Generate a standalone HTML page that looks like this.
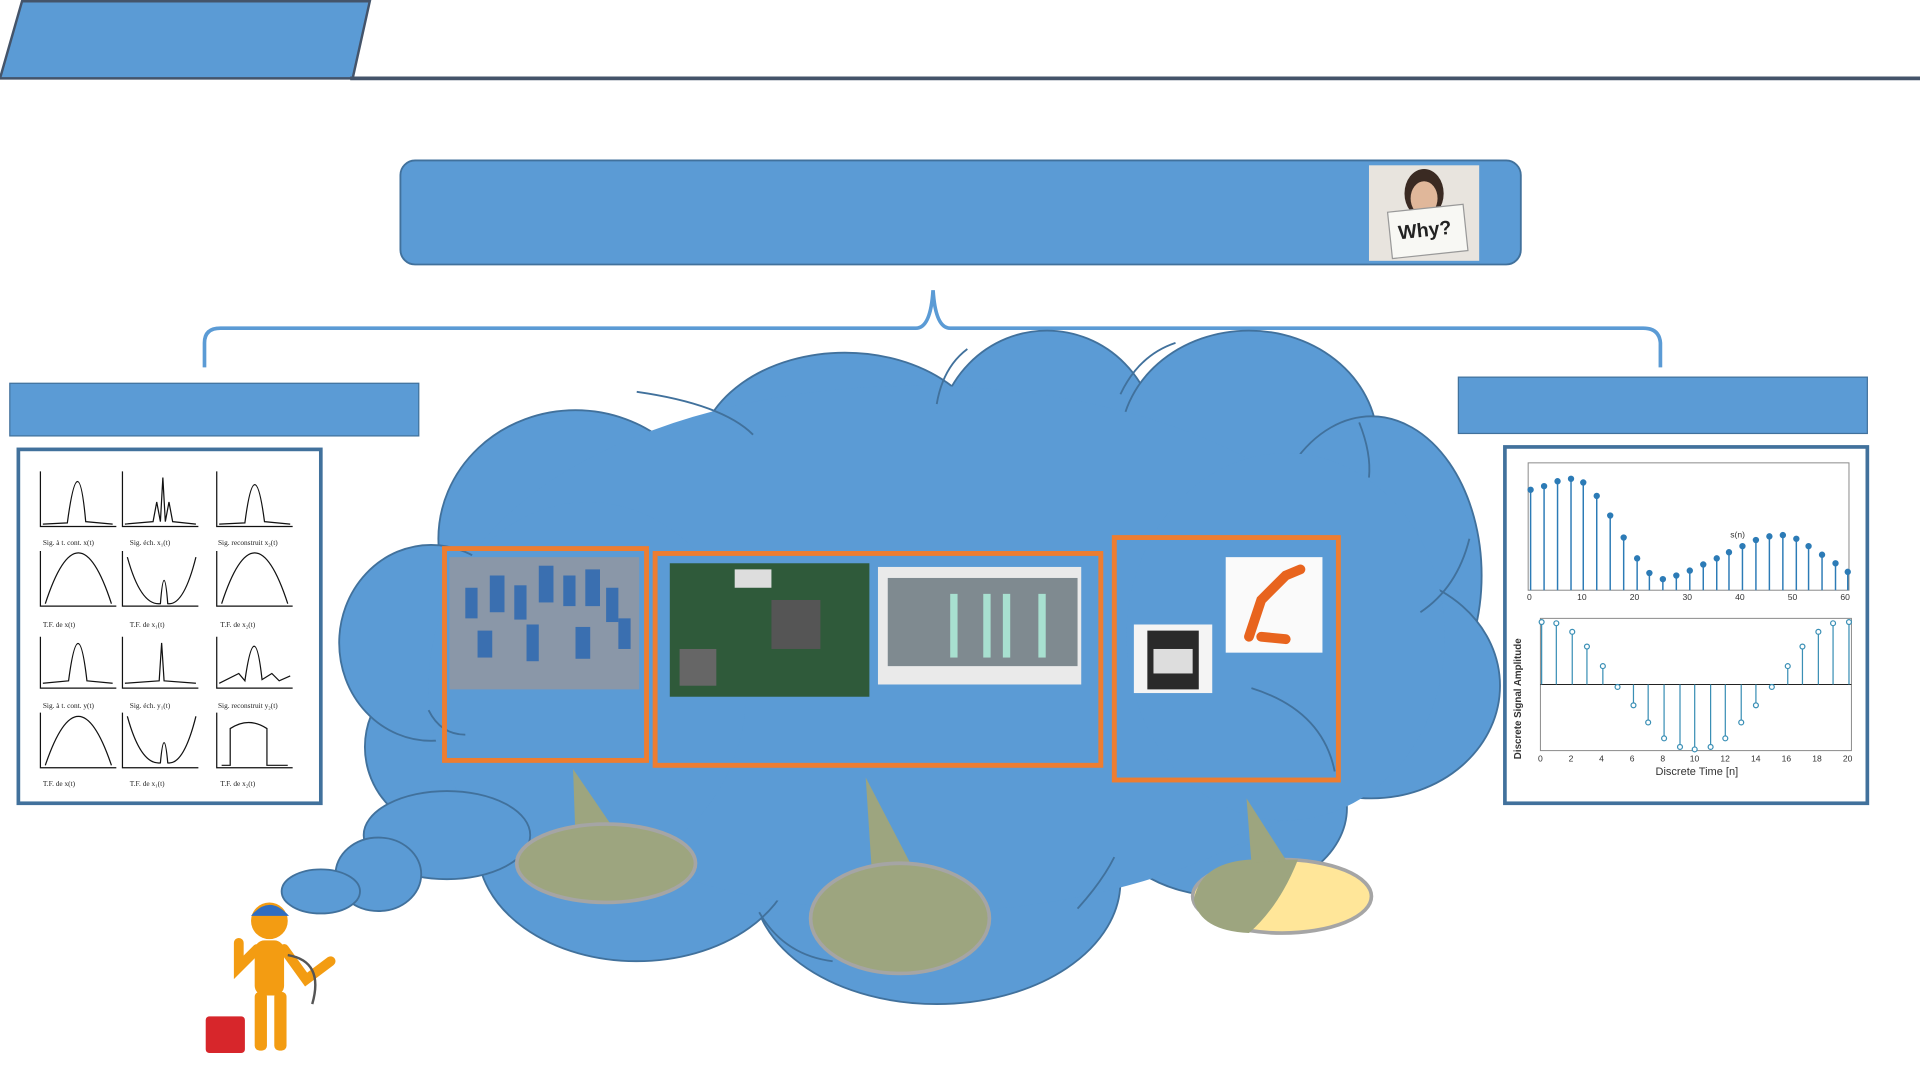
<!DOCTYPE html>
<html><head><meta charset="utf-8"><style>
html,body{margin:0;padding:0;background:#fff;width:1920px;height:1080px;overflow:hidden}
svg{display:block}
</style></head><body>
<svg width="1920" height="1080" viewBox="0 0 1568 882" xmlns="http://www.w3.org/2000/svg" font-family="Liberation Sans, sans-serif">
<!-- header -->
<polygon points="0,64 18,1 302,1 288,64" fill="#5b9bd5" stroke="#44546a" stroke-width="2"/>
<line x1="286" y1="64" x2="1568" y2="64" stroke="#44546a" stroke-width="3"/>
<!-- top box -->
<rect x="327" y="131" width="915" height="85" rx="12" fill="#5b9bd5" stroke="#41719c" stroke-width="1.5"/>
<rect x="1118" y="135" width="90" height="78" fill="#e8e4de"/>
<ellipse cx="1163" cy="158" rx="16" ry="20" fill="#3a2a22"/>
<ellipse cx="1163" cy="162" rx="11" ry="14" fill="#e0b79a"/>
<rect x="1135" y="170" width="62" height="38" fill="#f8f8f4" stroke="#999" transform="rotate(-6 1166 189)"/>
<text x="1142" y="193" font-size="16" font-weight="bold" fill="#222" transform="rotate(-6 1166 189)">Why?</text>
<!-- brace -->
<path d="M167,300 L167,280 Q167,268 180,268 L748,268 Q760,268 762,237 Q764,268 776,268 L1342,268 Q1355,268 1356,280 L1356,300" fill="none" stroke="#5b9bd5" stroke-width="3"/>
<!-- side labels -->
<rect x="8" y="313" width="334" height="43" fill="#5b9bd5" stroke="#41719c"/>
<rect x="1191" y="308" width="334" height="46" fill="#5b9bd5" stroke="#41719c"/>
<!-- left chart panel -->
<rect x="15" y="367" width="247" height="289" fill="#fff" stroke="#41719c" stroke-width="3"/>
<g stroke="#111" stroke-width="1" fill="none">
 <g id="row">
  <path d="M33,385 L33,430 L95,430"/><path d="M100,385 L100,430 L162,430"/><path d="M177,385 L177,430 L239,430"/>
 </g>
 <path d="M35,428 L55,427 Q64,360 70,426 L92,428"/>
 <path d="M102,428 L125,426 L128,410 L131,426 L133,390 L135,426 L138,410 L141,426 L160,428"/>
 <path d="M179,428 L200,427 Q208,365 216,426 L237,428"/>
 <path d="M33,450 L33,495 L95,495 M100,450 L100,495 L162,495 M177,450 L177,495 L239,495"/>
 <path d="M37,493 Q64,410 91,493"/>
 <path d="M104,455 Q115,495 131,493 Q134,455 137,493 Q150,495 160,455"/>
 <path d="M181,493 Q208,410 235,493"/>
 <path d="M33,520 L33,562 L95,562 M100,520 L100,562 L162,562 M177,520 L177,562 L239,562"/>
 <path d="M35,558 L56,556 Q64,495 71,556 L92,558"/>
 <path d="M102,558 L130,556 L132,525 L134,556 L160,558"/>
 <path d="M179,558 L195,550 L200,556 Q208,500 214,555 L222,550 L228,556 L237,552"/>
 <path d="M33,582 L33,627 L95,627 M100,582 L100,627 L162,627 M177,582 L177,627 L239,627"/>
 <path d="M37,625 Q64,545 91,625"/>
 <path d="M104,585 Q115,625 131,623 Q134,590 137,623 Q150,625 160,585"/>
 <path d="M181,625 L188,625 L188,595 Q203,585 218,595 L218,625 L235,625"/>
</g>
<g font-size="6" fill="#222" font-family="Liberation Serif, serif">
 <text x="35" y="445">Sig. à t. cont. x(t)</text><text x="106" y="445">Sig. éch. x₁(t)</text><text x="178" y="445">Sig. reconstruit x₂(t)</text>
 <text x="35" y="512">T.F. de x(t)</text><text x="106" y="512">T.F. de x₁(t)</text><text x="180" y="512">T.F. de x₂(t)</text>
 <text x="35" y="578">Sig. à t. cont. y(t)</text><text x="106" y="578">Sig. éch. y₁(t)</text><text x="178" y="578">Sig. reconstruit y₂(t)</text>
 <text x="35" y="642">T.F. de x(t)</text><text x="106" y="642">T.F. de x₁(t)</text><text x="180" y="642">T.F. de x₂(t)</text>
</g>
<!-- right chart panel -->
<rect x="1229" y="365" width="296" height="291" fill="#fff" stroke="#41719c" stroke-width="3"/>
<rect x="1248" y="378" width="262" height="104" fill="none" stroke="#888" stroke-width="0.8"/>
<g stroke="#2c7bb6" stroke-width="1.2" fill="#2c7bb6">
<line x1="1250" y1="482" x2="1250" y2="400"/><circle cx="1250" cy="400" r="2"/>
<line x1="1261" y1="482" x2="1261" y2="397"/><circle cx="1261" cy="397" r="2"/>
<line x1="1272" y1="482" x2="1272" y2="393"/><circle cx="1272" cy="393" r="2"/>
<line x1="1283" y1="482" x2="1283" y2="391"/><circle cx="1283" cy="391" r="2"/>
<line x1="1293" y1="482" x2="1293" y2="394"/><circle cx="1293" cy="394" r="2"/>
<line x1="1304" y1="482" x2="1304" y2="405"/><circle cx="1304" cy="405" r="2"/>
<line x1="1315" y1="482" x2="1315" y2="421"/><circle cx="1315" cy="421" r="2"/>
<line x1="1326" y1="482" x2="1326" y2="439"/><circle cx="1326" cy="439" r="2"/>
<line x1="1337" y1="482" x2="1337" y2="456"/><circle cx="1337" cy="456" r="2"/>
<line x1="1347" y1="482" x2="1347" y2="468"/><circle cx="1347" cy="468" r="2"/>
<line x1="1358" y1="482" x2="1358" y2="473"/><circle cx="1358" cy="473" r="2"/>
<line x1="1369" y1="482" x2="1369" y2="470"/><circle cx="1369" cy="470" r="2"/>
<line x1="1380" y1="482" x2="1380" y2="466"/><circle cx="1380" cy="466" r="2"/>
<line x1="1391" y1="482" x2="1391" y2="461"/><circle cx="1391" cy="461" r="2"/>
<line x1="1402" y1="482" x2="1402" y2="456"/><circle cx="1402" cy="456" r="2"/>
<line x1="1412" y1="482" x2="1412" y2="451"/><circle cx="1412" cy="451" r="2"/>
<line x1="1423" y1="482" x2="1423" y2="446"/><circle cx="1423" cy="446" r="2"/>
<line x1="1434" y1="482" x2="1434" y2="441"/><circle cx="1434" cy="441" r="2"/>
<line x1="1445" y1="482" x2="1445" y2="438"/><circle cx="1445" cy="438" r="2"/>
<line x1="1456" y1="482" x2="1456" y2="437"/><circle cx="1456" cy="437" r="2"/>
<line x1="1467" y1="482" x2="1467" y2="440"/><circle cx="1467" cy="440" r="2"/>
<line x1="1477" y1="482" x2="1477" y2="446"/><circle cx="1477" cy="446" r="2"/>
<line x1="1488" y1="482" x2="1488" y2="453"/><circle cx="1488" cy="453" r="2"/>
<line x1="1499" y1="482" x2="1499" y2="460"/><circle cx="1499" cy="460" r="2"/>
<line x1="1509" y1="482" x2="1509" y2="467"/><circle cx="1509" cy="467" r="2"/>
</g>
<g font-size="7" fill="#333"><text x="1247" y="490">0</text><text x="1288" y="490">10</text><text x="1331" y="490">20</text><text x="1374" y="490">30</text><text x="1417" y="490">40</text><text x="1460" y="490">50</text><text x="1503" y="490">60</text><text x="1413" y="439">s(n)</text></g>
<rect x="1258" y="505" width="254" height="108" fill="none" stroke="#888" stroke-width="0.8"/>
<line x1="1258" y1="559" x2="1512" y2="559" stroke="#222" stroke-width="0.8"/>
<g stroke="#3a8fb5" stroke-width="1" fill="none">
<path d="M1259,559V508M1271,559V509M1284,559V516M1296,559V528M1309,559V544M1321,559V561M1334,559V576M1346,559V590M1359,559V603M1372,559V610M1384,559V612M1397,559V610M1409,559V603M1422,559V590M1434,559V576M1447,559V561M1460,559V544M1472,559V528M1485,559V516M1497,559V509M1510,559V508"/>
<g fill="#fff"><circle cx="1259" cy="508" r="2"/><circle cx="1271" cy="509" r="2"/><circle cx="1284" cy="516" r="2"/><circle cx="1296" cy="528" r="2"/><circle cx="1309" cy="544" r="2"/><circle cx="1321" cy="561" r="2"/><circle cx="1334" cy="576" r="2"/><circle cx="1346" cy="590" r="2"/><circle cx="1359" cy="603" r="2"/><circle cx="1372" cy="610" r="2"/><circle cx="1384" cy="612" r="2"/><circle cx="1397" cy="610" r="2"/><circle cx="1409" cy="603" r="2"/><circle cx="1422" cy="590" r="2"/><circle cx="1434" cy="576" r="2"/><circle cx="1447" cy="561" r="2"/><circle cx="1460" cy="544" r="2"/><circle cx="1472" cy="528" r="2"/><circle cx="1485" cy="516" r="2"/><circle cx="1497" cy="509" r="2"/><circle cx="1510" cy="508" r="2"/></g>
</g>
<g font-size="7" fill="#333"><text x="1256" y="622">0</text><text x="1281" y="622">2</text><text x="1306" y="622">4</text><text x="1331" y="622">6</text><text x="1356" y="622">8</text><text x="1380" y="622">10</text><text x="1405" y="622">12</text><text x="1430" y="622">14</text><text x="1455" y="622">16</text><text x="1480" y="622">18</text><text x="1505" y="622">20</text></g>
<text x="1352" y="633" font-size="9" fill="#333">Discrete Time [n]</text>
<text x="1242" y="620" font-size="8" font-weight="bold" fill="#333" transform="rotate(-90 1242 620)">Discrete Signal Amplitude</text>
<!-- cloud -->
<g fill="#5b9bd5" stroke="#41719c" stroke-width="1.5">
<ellipse cx="470" cy="440" rx="112" ry="105"/>
<ellipse cx="690" cy="375" rx="120" ry="87"/>
<ellipse cx="855" cy="362" rx="90" ry="92"/>
<ellipse cx="1020" cy="362" rx="105" ry="92"/>
<ellipse cx="1120" cy="470" rx="90" ry="130"/>
<ellipse cx="1120" cy="560" rx="105" ry="92"/>
<ellipse cx="1000" cy="660" rx="100" ry="72"/>
<ellipse cx="765" cy="720" rx="150" ry="100"/>
<ellipse cx="520" cy="692" rx="130" ry="93"/>
<ellipse cx="370" cy="610" rx="72" ry="70"/>
<ellipse cx="352" cy="525" rx="75" ry="80"/>
</g>
<g fill="#5b9bd5">
<ellipse cx="750" cy="530" rx="390" ry="215"/>
<ellipse cx="480" cy="560" rx="130" ry="150"/>
<ellipse cx="1050" cy="520" rx="130" ry="150"/>
</g>
<g fill="none" stroke="#41719c" stroke-width="1.5">
<path d="M520,320 Q590,330 615,355"/><path d="M765,330 Q770,300 790,285"/><path d="M915,322 Q930,290 960,280"/>
<path d="M1110,345 Q1120,370 1118,390"/><path d="M1160,500 Q1190,480 1200,440"/>
<path d="M1022,562 Q1080,580 1090,630"/><path d="M380,600 Q360,600 350,580"/>
<path d="M620,745 Q640,780 680,785"/><path d="M880,742 Q900,720 910,700"/>
</g>
<!-- small bubbles -->
<g fill="#5b9bd5" stroke="#41719c" stroke-width="1.5">
<ellipse cx="365" cy="682" rx="68" ry="36"/>
<ellipse cx="309" cy="714" rx="35" ry="30"/>
<ellipse cx="262" cy="728" rx="32" ry="18"/>
</g>
<!-- orange boxes -->
<g fill="none" stroke="#ed7d31" stroke-width="4">
<rect x="363" y="448" width="165" height="173"/>
<rect x="535" y="452" width="364" height="173"/>
<rect x="910" y="439" width="183" height="198"/>
</g>
<!-- images -->
<rect x="367" y="455" width="155" height="108" fill="#8a97a8"/>
<g fill="#3a6fb0"><rect x="380" y="480" width="10" height="25"/><rect x="400" y="470" width="12" height="30"/><rect x="420" y="478" width="10" height="28"/><rect x="440" y="462" width="12" height="30"/><rect x="460" y="470" width="10" height="25"/><rect x="478" y="465" width="12" height="30"/><rect x="495" y="480" width="10" height="28"/><rect x="390" y="515" width="12" height="22"/><rect x="430" y="510" width="10" height="30"/><rect x="470" y="512" width="12" height="26"/><rect x="505" y="505" width="10" height="25"/></g>
<rect x="547" y="460" width="163" height="109" fill="#2f5a3a"/>
<rect x="630" y="490" width="40" height="40" fill="#555"/><rect x="555" y="530" width="30" height="30" fill="#666"/><rect x="600" y="465" width="30" height="15" fill="#ddd"/>
<rect x="717" y="463" width="166" height="96" fill="#eaeaea"/>
<rect x="725" y="472" width="155" height="72" fill="#7f8a90"/>
<g fill="#a8e0d0"><rect x="776" y="485" width="6" height="52"/><rect x="803" y="485" width="6" height="52"/><rect x="819" y="485" width="6" height="52"/><rect x="848" y="485" width="6" height="52"/></g>
<rect x="926" y="510" width="64" height="56" fill="#f4f4f4"/><rect x="937" y="515" width="42" height="48" fill="#2a2a2a"/><rect x="942" y="530" width="32" height="20" fill="#ddd"/>
<rect x="1001" y="455" width="79" height="78" fill="#fafafa"/>
<path d="M1020,520 L1030,490 L1050,470 L1062,465 M1030,520 L1050,522" stroke="#e8641e" stroke-width="8" fill="none" stroke-linecap="round"/>
<!-- speech bubbles -->
<g stroke="#a5a5a5" stroke-width="3">
<path d="M468,628 L500,675 L470,685 Z" fill="#9da57f" stroke="none"/>
<ellipse cx="495" cy="705" rx="73" ry="32" fill="#9da57f"/>
<path d="M707,635 L745,708 L712,712 Z" fill="#9da57f" stroke="none"/>
<ellipse cx="735" cy="750" rx="73" ry="45" fill="#9da57f"/>
<ellipse cx="1047" cy="732" rx="73" ry="30" fill="#ffe699"/>
</g>
<path d="M975,735 Q980,705 1020,702 L1060,702 Q1045,740 1020,762 Q980,760 975,735 Z" fill="#9da57f"/>
<path d="M1018,652 L1050,702 L1022,705 Z" fill="#9da57f"/>
<!-- worker -->
<g>
<rect x="168" y="830" width="32" height="30" fill="#d7262b" rx="3"/>
<circle cx="220" cy="752" r="15" fill="#f39c12"/>
<path d="M205,748 Q220,730 236,748 Z" fill="#2f6dc0"/>
<rect x="208" y="768" width="24" height="45" rx="8" fill="#f39c12"/>
<rect x="208" y="810" width="10" height="48" rx="4" fill="#f39c12"/>
<rect x="224" y="810" width="10" height="48" rx="4" fill="#f39c12"/>
<path d="M210,775 L195,790 L195,770" stroke="#f39c12" stroke-width="8" fill="none" stroke-linecap="round"/>
<path d="M232,775 L250,800 L270,785" stroke="#f39c12" stroke-width="8" fill="none" stroke-linecap="round"/>
<path d="M235,780 Q265,785 255,820" stroke="#555" stroke-width="2" fill="none"/>
</g>
</svg>
</body></html>
